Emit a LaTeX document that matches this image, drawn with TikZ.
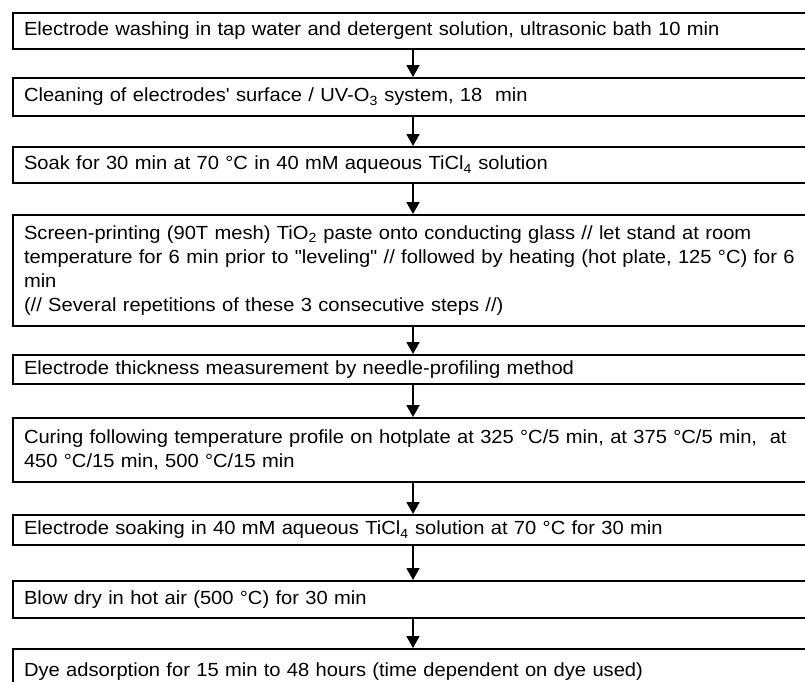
\documentclass[tikz,border=0pt]{standalone}
\usepackage{fontspec}
\setmainfont[FakeStretch=1.06, Ligatures=TeXOff]{Liberation Sans}
\usetikzlibrary{arrows.meta}
\begin{document}
\begin{tikzpicture}[x=1pt, y=1pt,
  stepbox/.style={draw, line width=2pt, anchor=north west, text width=800pt, align=left,
    inner xsep=11pt, inner ysep=3pt, font=\fontsize{19}{24}\selectfont},
  flow/.style={line width=1.8pt, -{Triangle[length=12pt,width=13pt]}}]
  \path[use as bounding box, clip] (0,0) rectangle (805,-681);
  \coordinate (ax) at (413,0);
  \node[stepbox, minimum height=36pt] (wash) at (12,-12)
    {Electrode washing in tap water and detergent solution, ultrasonic bath 10 min};
  \node[stepbox, minimum height=38pt] (clean) at (12,-77)
    {Cleaning of electrodes' surface / UV-O\textsubscript{3} system, 18~ min};
  \node[stepbox, minimum height=36pt] (soak) at (12,-146)
    {Soak for 30 min at 70 °C in 40 mM aqueous TiCl\textsubscript{4} solution};
  \node[stepbox, minimum height=111pt] (print) at (12,-214)
    {Screen-printing (90T mesh) TiO\textsubscript{2} paste onto conducting glass // let stand at room\\
     temperature for 6 min prior to "leveling" // followed by heating (hot plate, 125 °C) for 6\\
     min\\
     (// Several repetitions of these 3 consecutive steps //)};
  \node[stepbox, minimum height=29pt] (thick) at (12,-354)
    {Electrode thickness measurement by needle-profiling method};
  \node[stepbox, minimum height=64pt] (cure) at (12,-417)
    {Curing following temperature profile on hotplate at 325 °C/5 min, at 375 °C/5 min,~ at\\
     450 °C/15 min, 500 °C/15 min};
  \node[stepbox, minimum height=30pt] (resoak) at (12,-514)
    {Electrode soaking in 40 mM aqueous TiCl\textsubscript{4} solution at 70 °C for 30 min};
  \node[stepbox, minimum height=37pt] (dry) at (12,-580)
    {Blow dry in hot air (500 °C) for 30 min};
  \node[stepbox, minimum height=46pt] (dye) at (12,-648)
    {Dye adsorption for 15 min to 48 hours (time dependent on dye used)};
  \foreach \a/\b in {wash/clean,clean/soak,soak/print,print/thick,thick/cure,cure/resoak,resoak/dry,dry/dye}
    \draw[flow] (\a.south -| ax) -- (\b.north -| ax);
\end{tikzpicture}
\end{document}
